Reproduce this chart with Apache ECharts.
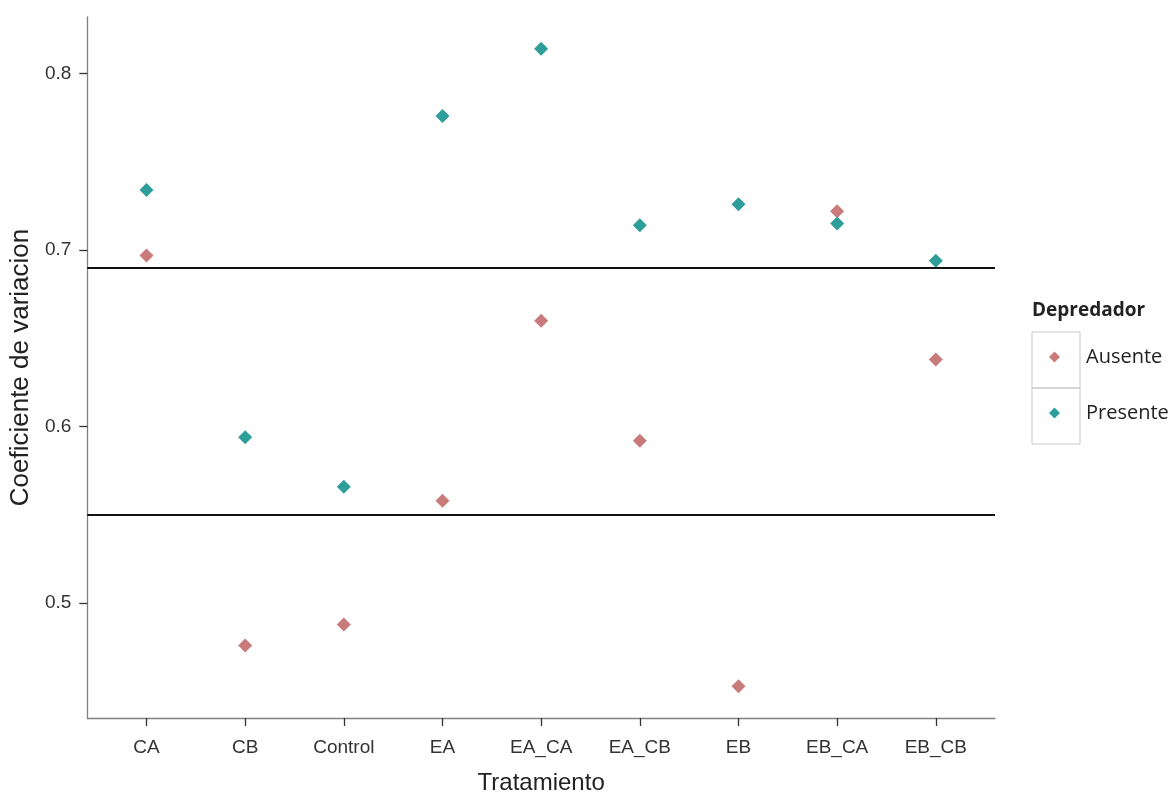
<!DOCTYPE html>
<html>
<head>
<meta charset="utf-8">
<script src="https://cdn.jsdelivr.net/npm/echarts@6/dist/echarts.min.js"></script>
<style>html,body{margin:0;padding:0;background:#fff}#c{width:1174px;height:800px}</style>
</head>
<body>
<div id="c"></div>
<script>
const categories = ["CA","CB","Control","EA","EA_CA","EA_CB","EB","EB_CA","EB_CB"];
const ausente  = [0.697, 0.476, 0.488, 0.558, 0.660, 0.592, 0.453, 0.722, 0.638];
const presente = [0.734, 0.594, 0.566, 0.776, 0.814, 0.714, 0.726, 0.715, 0.694];
const refLines = [0.691, 0.552];
const yTicks = [0.5, 0.6, 0.7, 0.8];
const xTicks = [1,2,3,4,5,6,7,8,9];

const toPts = arr => arr.map((v,i)=>[i+1, v]);
const font = "Liberation Sans, Arial, sans-serif";
const chart = echarts.init(document.getElementById('c'));
chart.setOption({
  animation:false,
  backgroundColor:'#fff',
  title:{text:'Depredador', left:1032, top:301, padding:0,
    textStyle:{fontFamily:'Open Sans, sans-serif', fontWeight:'bold', fontSize:19, color:'#222'}},
  legend:{
    orient:'vertical', left:1049, top:347, padding:0,
    itemWidth:11, itemHeight:11, itemGap:36,
    icon:'diamond',
    data:['Ausente','Presente'],
    textStyle:{fontFamily:'Open Sans, sans-serif', fontSize:20, color:'#222', lineHeight:20, padding:[0,0,0,21]}
  },
  graphic:[
    {type:'rect', shape:{x:1032,y:332,width:48,height:56}, style:{fill:'none', stroke:'#c8c8c8', lineWidth:1}, silent:true},
    {type:'rect', shape:{x:1032,y:388,width:48,height:56}, style:{fill:'none', stroke:'#c8c8c8', lineWidth:1}, silent:true}
  ],
  grid:{left:86, right:179, top:17, bottom:78},
  xAxis:{
    type:'value', min:0.4, max:9.6,
    name:'Tratamiento', nameLocation:'middle', nameGap:53,
    nameTextStyle:{fontFamily:font, fontSize:24, color:'#222'},
    axisLine:{show:true, lineStyle:{color:'#808080', width:1.3}},
    axisTick:{show:true, length:8, customValues:xTicks, lineStyle:{color:'#333', width:1.3}},
    axisLabel:{customValues:xTicks, margin:20, fontFamily:font, fontSize:19, color:'#333',
      formatter:v=>categories[Math.round(v)-1] || ''},
    splitLine:{show:false}
  },
  yAxis:{
    type:'value', min:0.435, max:0.832,
    name:'Coeficiente de variacion', nameLocation:'middle', nameGap:50, nameRotate:90,
    nameTextStyle:{fontFamily:font, fontSize:26, color:'#222'},
    axisLine:{show:true, lineStyle:{color:'#808080', width:1.3}},
    axisTick:{show:true, length:8, customValues:yTicks, lineStyle:{color:'#333', width:1.3}},
    axisLabel:{customValues:yTicks, margin:16, fontFamily:font, fontSize:19, color:'#333',
      formatter:v=>v.toFixed(1)},
    splitLine:{show:false}
  },
  series:[
    {type:'scatter', name:'refs', data:[], z:1, silent:true,
      markLine:{silent:true, symbol:'none', label:{show:false},
        lineStyle:{color:'#111', width:2, type:'solid'},
        data:refLines.map(v=>({yAxis:v}))}},
    {type:'scatter', name:'Ausente', data:toPts(ausente), symbol:'diamond', symbolSize:14, z:3,
      itemStyle:{color:'#C97B7B', opacity:1}},
    {type:'scatter', name:'Presente', data:toPts(presente), symbol:'diamond', symbolSize:14, z:4,
      itemStyle:{color:'#2E9E9B', opacity:1}}
  ]
});
</script>
</body>
</html>
